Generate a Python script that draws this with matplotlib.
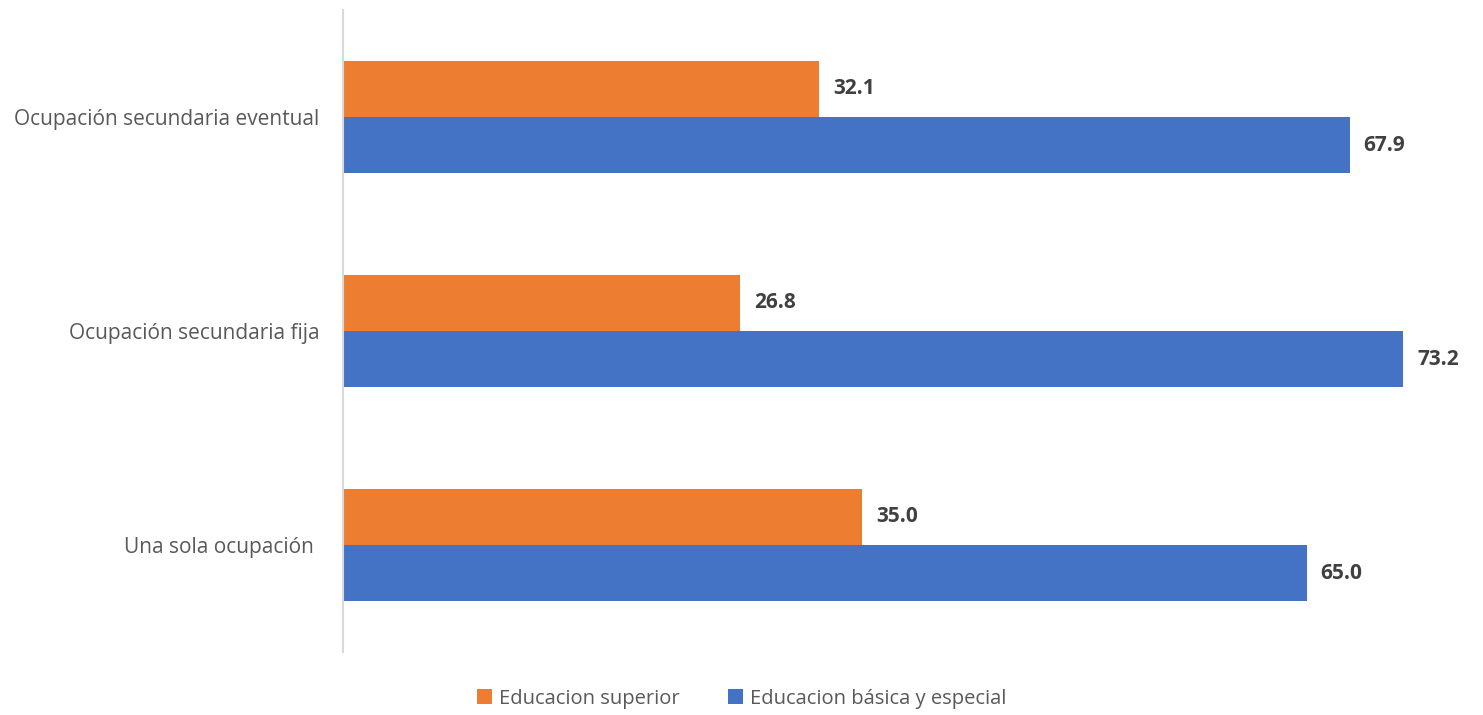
import numpy as np
import matplotlib
matplotlib.use('agg')
import matplotlib.pyplot as plt

categories = ['Una sola ocupación ', 'Ocupación secundaria fija', 'Ocupación secundaria eventual']
superior = [35.0, 26.8, 32.1]
basica = [65.0, 73.2, 67.9]
series_names = ['Educacion superior', 'Educacion básica y especial']

plt.rcParams['font.family'] = ['Open Sans', 'DejaVu Sans']

fig = plt.figure(figsize=(14.83, 7.15), dpi=100)
ax = fig.add_axes([343 / 1483, 63 / 715, (1403 - 343) / 1483, 642 / 715])

y = np.arange(len(categories))
h = 0.262
xmax = 71.5
ax.barh(y + h / 2, superior, height=h, color='#ED7D31', label=series_names[0])
ax.barh(y - h / 2, basica, height=h, color='#4472C4', label=series_names[1])

for yy, vals in [(y + h / 2, superior), (y - h / 2, basica)]:
    for i in range(len(vals)):
        ax.text(min(vals[i], xmax) + 0.95, yy[i], '%.1f' % vals[i], va='center', ha='left',
                fontsize=15, fontweight='bold', color='#404040', clip_on=False)

ax.set_xlim(0, xmax)
ax.set_ylim(-0.5, 2.5)
ax.set_yticks(y)
ax.set_yticklabels(categories, fontsize=15, color='#595959')
ax.tick_params(axis='y', length=0, pad=17)
ax.set_xticks([])
for s in ['top', 'right', 'bottom']:
    ax.spines[s].set_visible(False)
ax.spines['left'].set_color('#D9D9D9')
ax.spines['left'].set_linewidth(1.5)

handles, labels = ax.get_legend_handles_labels()
fig.legend(handles, labels, loc='upper center', bbox_to_anchor=(0.5, 0.062), ncol=2,
           frameon=False, fontsize=14.5, handlelength=0.75, handleheight=0.75,
           handletextpad=0.35, columnspacing=2.4, labelcolor='#595959')

plt.savefig('out.png', dpi=100)
plt.close()
